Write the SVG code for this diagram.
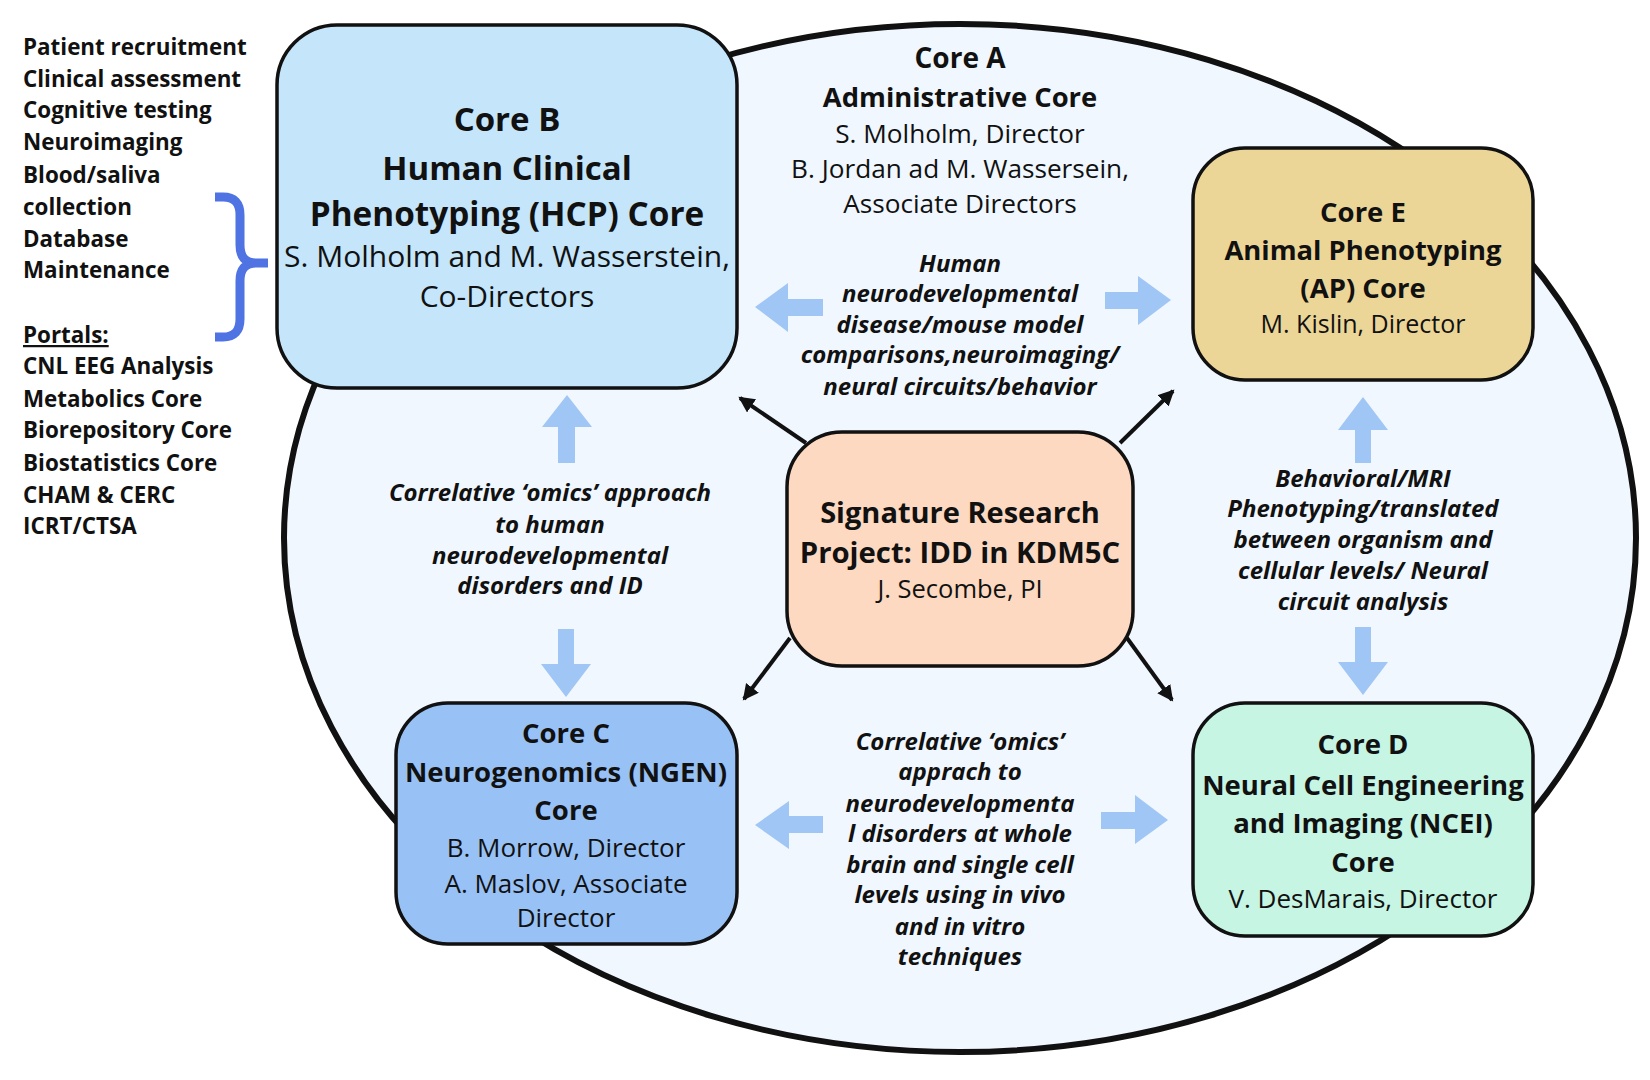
<svg xmlns="http://www.w3.org/2000/svg" width="1650" height="1080" viewBox="0 0 1650 1080">
<style>
text{font-family:"Open Sans","Liberation Sans",sans-serif;fill:#111;text-anchor:middle}
.b{font-weight:700}
.i{font-weight:700;font-style:italic;font-size:24px}
.list{font-weight:700;font-size:22.4px;text-anchor:start}
.box{stroke:#111;stroke-width:3.5}
.fat{fill:#a0c6f6}
.con{stroke:#111;stroke-width:4;fill:none;marker-end:url(#ah)}
</style>
<defs>
<marker id="ah" markerUnits="userSpaceOnUse" markerWidth="20" markerHeight="20" refX="14" refY="8" orient="auto">
<path d="M0,0 L16,8 L0,16 Z" fill="#111"/>
</marker>
</defs>
<rect width="1650" height="1080" fill="#fff"/>

<g id="list">
<text class="list" x="23" y="55">Patient recruitment</text>
<text class="list" x="23" y="87">Clinical assessment</text>
<text class="list" x="23" y="118">Cognitive testing</text>
<text class="list" x="23" y="150">Neuroimaging</text>
<text class="list" x="23" y="183">Blood/saliva</text>
<text class="list" x="23" y="215">collection</text>
<text class="list" x="23" y="247">Database</text>
<text class="list" x="23" y="278">Maintenance</text>
<text class="list" x="23" y="343" text-decoration="underline">Portals:</text>
<text class="list" x="23" y="374">CNL EEG Analysis</text>
<text class="list" x="23" y="407">Metabolics Core</text>
<text class="list" x="23" y="438">Biorepository Core</text>
<text class="list" x="23" y="471">Biostatistics Core</text>
<text class="list" x="23" y="503">CHAM &amp; CERC</text>
<text class="list" x="23" y="534">ICRT/CTSA</text>
</g>
<g id="brace">
<path d="M215,197 L223,197 Q240,197 240,215 L240,245 Q240,263 256,263 L268,263 M268,263 L256,263 Q240,263 240,281 L240,319 Q240,337 223,337 L215,337" fill="none" stroke="#4f73e3" stroke-width="9"/>
</g>

<g id="core-a">
<ellipse cx="960" cy="538" rx="676" ry="514" fill="#f0f7fe" stroke="#111" stroke-width="6"/>
<text class="b" x="960" y="68" font-size="28">Core A</text>
<text class="b" x="960" y="107" font-size="27.4">Administrative Core</text>
<text x="960" y="143" font-size="26.2">S. Molholm, Director</text>
<text x="960" y="178" font-size="26.2">B. Jordan ad M. Wassersein,</text>
<text x="960" y="213" font-size="26.2">Associate Directors</text>
</g>

<g id="connectors">
<polygon class="fat" points="755,307 788,283 788,299 823,299 823,316 788,316 788,332"/>
<polygon class="fat" points="1171,300 1138,276 1138,292 1105,292 1105,309 1138,309 1138,325"/>
<polygon class="fat" points="755,825 789,801 789,816 823,816 823,833 789,833 789,849"/>
<polygon class="fat" points="1168,820 1135,795 1135,812 1101,812 1101,829 1135,829 1135,844"/>
<polygon class="fat" points="567,395 592,427 575,427 575,463 558,463 558,427 542,427"/>
<polygon class="fat" points="566,697 591,664 574,664 574,629 558,629 558,664 541,664"/>
<polygon class="fat" points="1363,397 1388,430 1371,430 1371,463 1355,463 1355,430 1338,430"/>
<polygon class="fat" points="1363,695 1388,662 1371,662 1371,627 1355,627 1355,662 1338,662"/>
<line class="con" x1="806" y1="443" x2="740" y2="398"/>
<line class="con" x1="1120" y1="443" x2="1173" y2="391"/>
<line class="con" x1="790" y1="638" x2="744" y2="699"/>
<line class="con" x1="1127" y1="638" x2="1172" y2="700"/>
</g>

<g id="label-top">
<text class="i" x="960" y="272">Human</text>
<text class="i" x="960" y="302">neurodevelopmental</text>
<text class="i" x="960" y="333">disease/mouse model</text>
<text class="i" x="960" y="363">comparisons,neuroimaging/</text>
<text class="i" x="960" y="395">neural circuits/behavior</text>
</g>
<g id="label-left">
<text class="i" x="550" y="501">Correlative ‘omics’ approach</text>
<text class="i" x="550" y="533">to human</text>
<text class="i" x="550" y="564">neurodevelopmental</text>
<text class="i" x="550" y="594">disorders and ID</text>
</g>
<g id="label-right">
<text class="i" x="1363" y="487">Behavioral/MRI</text>
<text class="i" x="1363" y="517">Phenotyping/translated</text>
<text class="i" x="1363" y="548">between organism and</text>
<text class="i" x="1363" y="579">cellular levels/ Neural</text>
<text class="i" x="1363" y="610">circuit analysis</text>
</g>
<g id="label-bottom">
<text class="i" x="960" y="750" font-size="23.5">Correlative ‘omics’</text>
<text class="i" x="960" y="780" font-size="23.5">apprach to</text>
<text class="i" x="960" y="812" font-size="23.5">neurodevelopmenta</text>
<text class="i" x="960" y="842" font-size="23.5">l disorders at whole</text>
<text class="i" x="960" y="873" font-size="23.5">brain and single cell</text>
<text class="i" x="960" y="903" font-size="23.5">levels using in vivo</text>
<text class="i" x="960" y="935" font-size="23.5">and in vitro</text>
<text class="i" x="960" y="965" font-size="23.5">techniques</text>
</g>

<g id="core-b">
<rect class="box" x="277" y="25" width="460" height="363" rx="60" fill="#c4e5fa"/>
<text class="b" x="507" y="131" font-size="33">Core B</text>
<text class="b" x="507" y="180" font-size="33">Human Clinical</text>
<text class="b" x="507" y="226" font-size="33.3">Phenotyping (HCP) Core</text>
<text x="507" y="267" font-size="30">S. Molholm and M. Wasserstein,</text>
<text x="507" y="307" font-size="30">Co-Directors</text>
</g>

<g id="core-e">
<rect class="box" x="1193" y="148" width="340" height="232" rx="52" fill="#ecd697"/>
<text class="b" x="1363" y="222" font-size="27.5">Core E</text>
<text class="b" x="1363" y="260" font-size="27.4">Animal Phenotyping</text>
<text class="b" x="1363" y="298" font-size="27.5">(AP) Core</text>
<text x="1363" y="333" font-size="25">M. Kislin, Director</text>
</g>

<g id="signature">
<rect class="box" x="787" y="432" width="346" height="234" rx="55" fill="#fdd9c1"/>
<text class="b" x="960" y="523" font-size="29">Signature Research</text>
<text class="b" x="960" y="563" font-size="29.3">Project: IDD in KDM5C</text>
<text x="960" y="598" font-size="25.5">J. Secombe, PI</text>
</g>

<g id="core-c">
<rect class="box" x="396" y="703" width="341" height="241" rx="52" fill="#98c2f6"/>
<text class="b" x="566" y="743" font-size="27.5">Core C</text>
<text class="b" x="566" y="782" font-size="27.5">Neurogenomics (NGEN)</text>
<text class="b" x="566" y="820" font-size="27.5">Core</text>
<text x="566" y="857" font-size="26">B. Morrow, Director</text>
<text x="566" y="893" font-size="26">A. Maslov, Associate</text>
<text x="566" y="927" font-size="26">Director</text>
</g>

<g id="core-d">
<rect class="box" x="1193" y="703" width="340" height="233" rx="52" fill="#c6f5e3"/>
<text class="b" x="1363" y="754" font-size="27.5">Core D</text>
<text class="b" x="1363" y="795" font-size="27.5">Neural Cell Engineering</text>
<text class="b" x="1363" y="833" font-size="27.5">and Imaging (NCEI)</text>
<text class="b" x="1363" y="872" font-size="27.5">Core</text>
<text x="1363" y="908" font-size="26">V. DesMarais, Director</text>
</g>
</svg>
